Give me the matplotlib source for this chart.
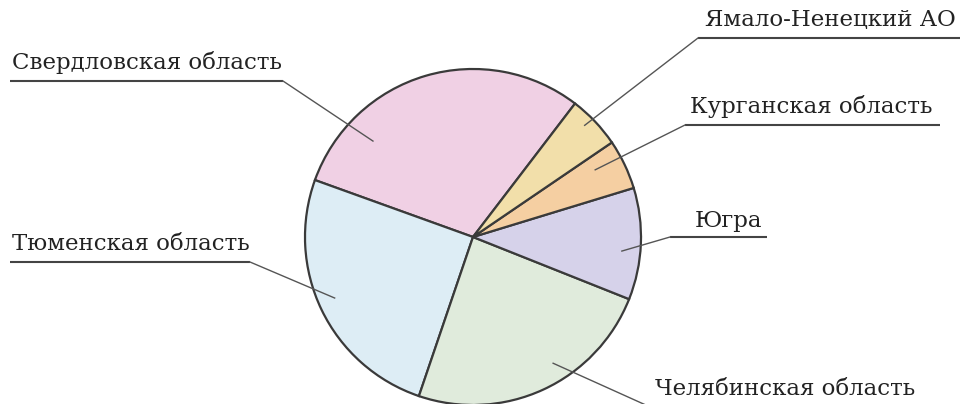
import numpy as np
import matplotlib.pyplot as plt

# shares of the pie, counterclockwise from start
regions = ["Свердловская область", "Тюменская область", "Челябинская область",
           "Югра", "Курганская область", "Ямало-Ненецкий АО"]
shares = [29.9, 25.3, 24.2, 10.75, 4.8, 5.1]
colors = ["#f0d0e4", "#ddedf5", "#e0ebdc", "#d6d2ea", "#f5cfa2", "#f2dfaa"]

W, H = 968, 404
cx, cy, R = 473, H - 237, 168
start = 52.6

# label layout in pixel coords: (text x, text y, ha, underline x0, x1, underline y, elbow x)
labels = {
    "Свердловская область": (12, 63, "left", 10, 283, 81, 283),
    "Тюменская область": (12, 244, "left", 10, 250, 262, 250),
    "Челябинская область": (655, 389, "left", 648, 940, 406, 648),
    "Югра": (695, 221, "left", 670, 767, 237, 670),
    "Курганская область": (690, 107, "left", 685, 940, 125, 685),
    "Ямало-Ненецкий АО": (705, 20, "left", 698, 960, 38, 698),
}
# where each leader line ends inside its slice: (angle deg, fraction of radius)
anchors = {
    "Свердловская область": (136.2, 0.825),
    "Тюменская область": (203.8, 0.90),
    "Челябинская область": (-57.6, 0.89),
    "Югра": (-5.4, 0.89),
    "Курганская область": (28.8, 0.83),
    "Ямало-Ненецкий АО": (45.0, 0.94),
}

fig = plt.figure(figsize=(W / 100, H / 100), dpi=100)
ax = fig.add_axes([0, 0, 1, 1])

ax.pie(shares, colors=colors, startangle=start, counterclock=True,
       center=(cx, cy), radius=R, frame=True,
       wedgeprops=dict(edgecolor="#3a3a3a", linewidth=1.6))
ax.set_xlim(0, W)
ax.set_ylim(0, H)
ax.set_aspect("equal")
ax.axis("off")

for name in regions:
    tx, ty, ha, x0, x1, uy, ex = labels[name]
    ang, fr = anchors[name]
    px = cx + fr * R * np.cos(np.radians(ang))
    py = cy + fr * R * np.sin(np.radians(ang))
    ax.text(tx, H - ty, name, ha=ha, va="center", fontsize=16.5,
            family="DejaVu Serif", color="#222222")
    ax.plot([x0, x1], [H - uy, H - uy], color="#444444", lw=1.5,
            solid_capstyle="butt")
    ax.plot([ex, px], [H - uy, py], color="#555555", lw=1.0)

fig.savefig("out.png", dpi=100, facecolor="white")
